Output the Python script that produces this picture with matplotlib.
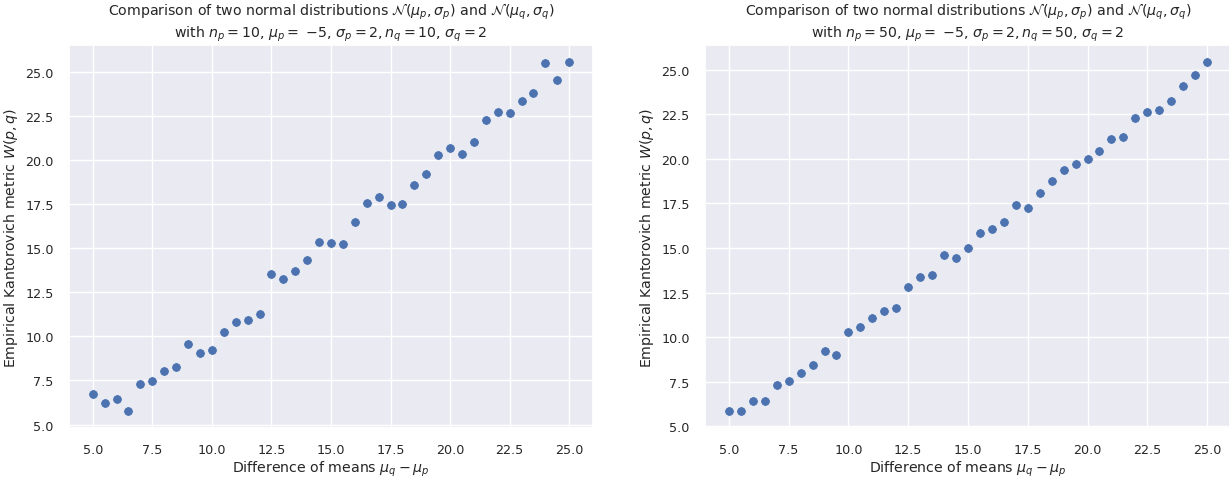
import matplotlib

matplotlib.use("Agg")
import matplotlib.pyplot as plt
import numpy as np
import seaborn as sns

# differences of means mu_q - mu_p used in both experiments
mean_diffs = np.arange(5.0, 25.01, 0.5)

# empirical Kantorovich distance, n = 10 samples per distribution
w_small = [
    6.74, 6.23, 6.43, 5.79, 7.30, 7.49, 8.04, 8.26, 9.58, 9.08, 9.23,
    10.25, 10.79, 10.94, 11.26, 13.55, 13.25, 13.72, 14.36, 15.36, 15.28,
    15.23, 16.51, 17.55, 17.91, 17.43, 17.51, 18.58, 19.23, 20.32, 20.70,
    20.36, 21.02, 22.30, 22.75, 22.68, 23.38, 23.83, 25.51, 24.55, 25.55,
]

# empirical Kantorovich distance, n = 50 samples per distribution
w_large = [
    5.88, 5.88, 6.40, 6.40, 7.29, 7.54, 7.99, 8.45, 9.25, 9.01, 10.28,
    10.56, 11.06, 11.46, 11.66, 12.84, 13.40, 13.51, 14.61, 14.46, 15.02,
    15.84, 16.08, 16.47, 17.43, 17.22, 18.10, 18.73, 19.40, 19.72, 20.00,
    20.43, 21.10, 21.21, 22.29, 22.61, 22.76, 23.25, 24.10, 24.70, 25.41,
]

sample_sizes = [10, 50]

sns.set_theme(style="darkgrid")
plt.rcParams["font.family"] = ["DejaVu Sans"]

fig = plt.figure(figsize=(12.29, 4.81), dpi=100)
ax_left = fig.add_axes([0.0561, 0.1081, 0.4264, 0.7963])
ax_right = fig.add_axes([0.5736, 0.1081, 0.428, 0.7963])

for ax, n, values in zip([ax_left, ax_right], sample_sizes, [w_small, w_large]):
    ax.scatter(mean_diffs, values, s=46, color="#4c72b0", edgecolors="white", linewidths=0.4)
    ax.set_title(
        r"Comparison of two normal distributions $\mathcal{N}(\mu_p, \sigma_p)$"
        r" and $\mathcal{N}(\mu_q, \sigma_q)$"
        "\n"
        rf"with $n_p = {n}$, $\mu_p =$ $-5$, $\sigma_p = 2, n_q = {n}$, $\sigma_q = 2$",
        fontsize=10.2,
    )
    ax.set_xlabel(r"Difference of means $\mu_q - \mu_p$", fontsize=10.2, labelpad=2)
    ax.set_ylabel(r"Empirical Kantorovich metric $W(p, q)$", fontsize=10.2, labelpad=4)
    ax.tick_params(labelsize=9.2, pad=5)
    ax.set_xticks([5.0, 7.5, 10.0, 12.5, 15.0, 17.5, 20.0, 22.5, 25.0])
    ax.set_yticks([5.0, 7.5, 10.0, 12.5, 15.0, 17.5, 20.0, 22.5, 25.0])
    ax.set_xlim(4.0, 26.0)

fig.savefig("out.png", dpi=100)
